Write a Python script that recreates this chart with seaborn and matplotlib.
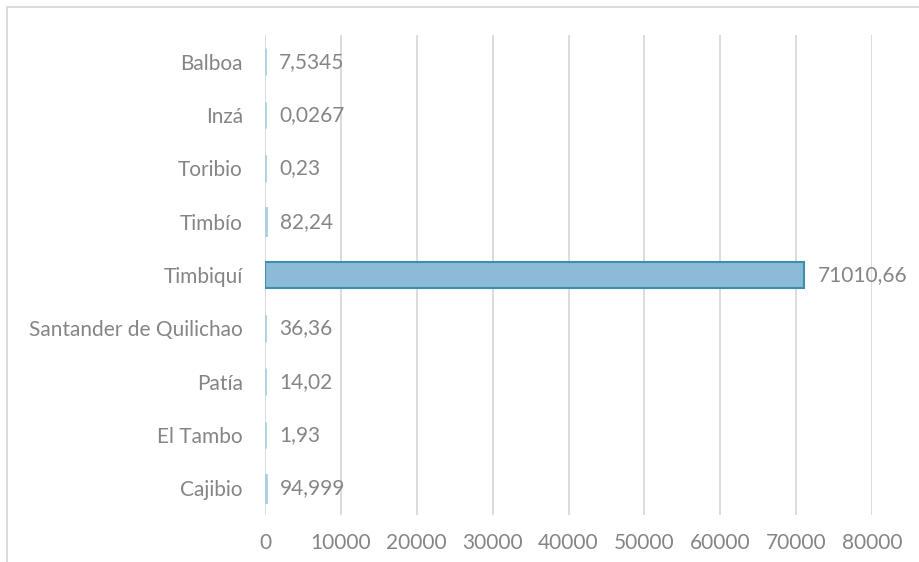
import numpy as np
import pandas as pd
import seaborn as sns
import matplotlib.pyplot as plt
from matplotlib.lines import Line2D

# data
municipios = ['Balboa', 'Inzá', 'Toribio', 'Timbío', 'Timbiquí',
              'Santander de Quilichao', 'Patía', 'El Tambo', 'Cajibio']
valores = [7.5345, 0.0267, 0.23, 82.24, 71010.66, 36.36, 14.02, 1.93, 94.999]
etiquetas = ['7,5345', '0,0267', '0,23', '82,24', '71010,66',
             '36,36', '14,02', '1,93', '94,999']
ticks = [0, 10000, 20000, 30000, 40000, 50000, 60000, 70000, 80000]

df = pd.DataFrame({'Municipio': municipios, 'Valor': valores})

sns.set_style('white')
plt.rcParams['font.family'] = ['Lato', 'DejaVu Sans']
gris = '#858585'
fs = 15

fig = plt.figure(figsize=(9.19, 5.62), dpi=100)
ax = fig.add_axes([265 / 919, 47 / 562, 607 / 919, 480 / 562])

sns.barplot(data=df, y='Municipio', x='Valor', orient='h', width=0.5,
            color='#8dbad6', saturation=1, edgecolor='#3a8fb0',
            linewidth=1.5, ax=ax)

# small bars in Excel show only a thin light-blue sliver
for p in ax.patches:
    if p.get_width() < 1000:
        p.set_edgecolor('#a9cfe0')
        p.set_linewidth(2.0)
        p.set_zorder(3)

ax.bar_label(ax.containers[0], labels=etiquetas, padding=10,
             fontsize=fs, color=gris)

ax.set_xlim(0, 80000)
ax.set_xticks(ticks)
ax.set_xticklabels([str(t) for t in ticks])
ax.set_ylim(8.5, -0.5)
ax.xaxis.grid(True, color='#d9d9d9', linewidth=1.3)
ax.set_axisbelow(True)
for s in ax.spines.values():
    s.set_visible(False)
ax.tick_params(axis='both', length=0, labelsize=fs, labelcolor=gris)
ax.tick_params(axis='x', pad=13)
ax.tick_params(axis='y', pad=16)
ax.set_xlabel('')
ax.set_ylabel('')

# chart frame (only top and left edges visible in the crop)
fig.add_artist(Line2D([7 / 919, 1], [1 - 7 / 562, 1 - 7 / 562],
                      color='#d9d9d9', linewidth=1.3, transform=fig.transFigure))
fig.add_artist(Line2D([7 / 919, 7 / 919], [0, 1 - 7 / 562],
                      color='#d9d9d9', linewidth=1.3, transform=fig.transFigure))

fig.savefig('out.png', dpi=100)
